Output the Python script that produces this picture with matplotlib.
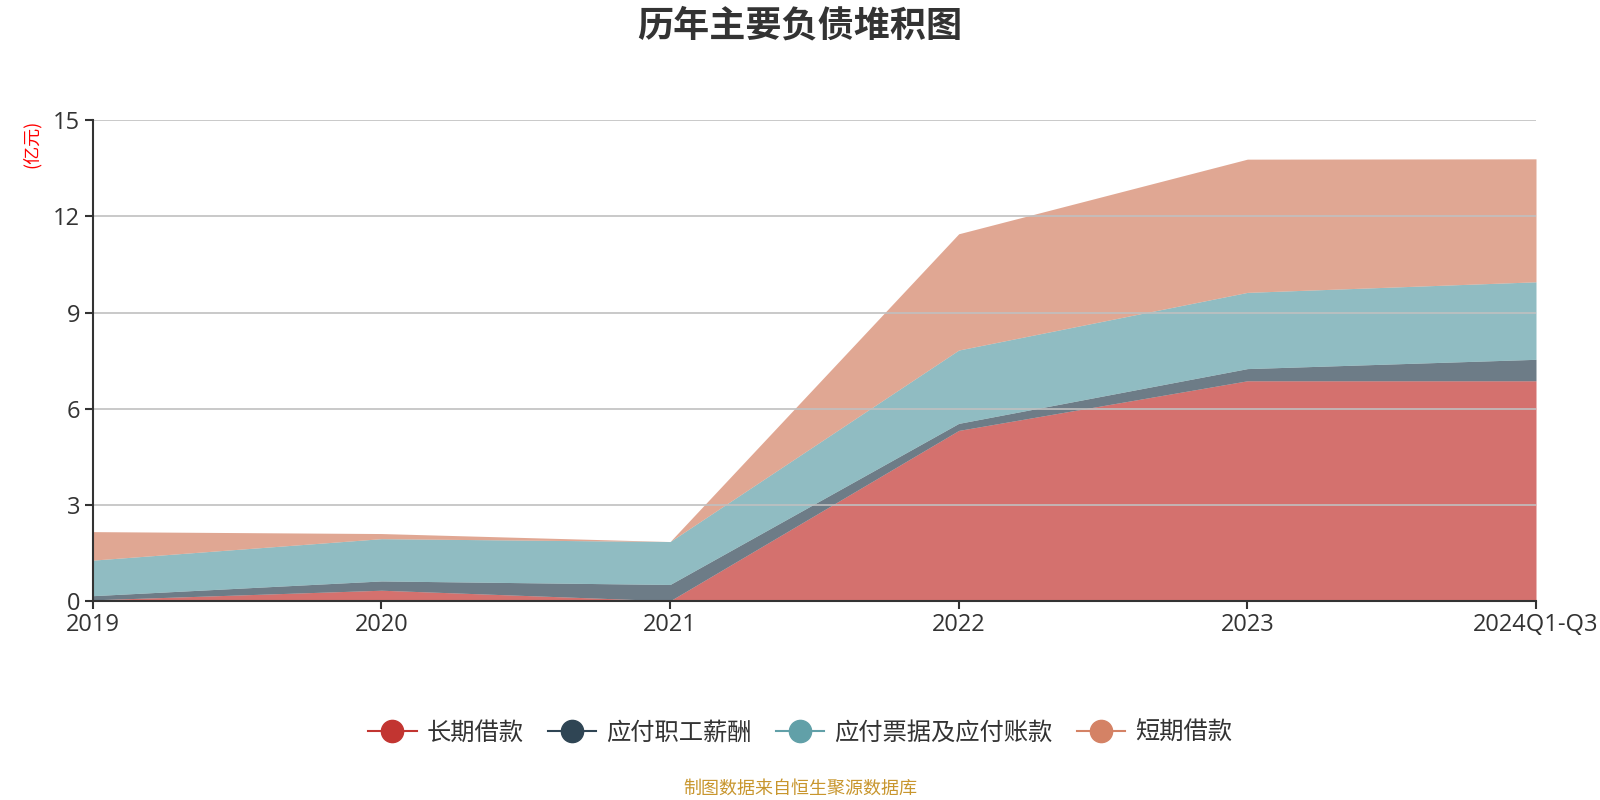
import numpy as np
import matplotlib
matplotlib.use('Agg')
from matplotlib import pyplot as plt
from matplotlib.lines import Line2D

plt.rcParams['font.family'] = ['Noto Sans CJK SC', 'DejaVu Sans']
plt.rcParams['axes.unicode_minus'] = False

# 数据 (亿元)
years = ['2019', '2020', '2021', '2022', '2023', '2024Q1-Q3']
long_loan = [0.03, 0.33, 0.0, 5.32, 6.87, 6.87]        # 长期借款
payroll = [0.13, 0.29, 0.51, 0.22, 0.38, 0.67]         # 应付职工薪酬
payables = [1.11, 1.32, 1.34, 2.29, 2.38, 2.42]        # 应付票据及应付账款
short_loan = [0.89, 0.16, 0.0, 3.63, 4.16, 3.84]       # 短期借款

names = ['长期借款', '应付职工薪酬', '应付票据及应付账款', '短期借款']
colors = ['#c23531', '#2f4554', '#61a0a8', '#d48265']
series = [long_loan, payroll, payables, short_loan]

fig = plt.figure(figsize=(16, 8), dpi=100)
ax = fig.add_axes([0.058, 0.249, 0.902, 0.6005])

x = np.arange(len(years))
base = np.zeros(len(years))
for vals, c in zip(series, colors):
    top = base + np.array(vals)
    ax.fill_between(x, base, top, color=c, alpha=0.7, linewidth=0, zorder=2)
    base = top

# 网格线
ax.set_ylim(0, 15)
ax.set_yticks([0, 3, 6, 9, 12, 15])
ax.yaxis.grid(True, color='#c0c0c0', linewidth=1.2, zorder=3)
ax.set_axisbelow(False)
ax.set_xlim(0, len(years) - 1)
ax.set_xticks(x)
ax.set_xticklabels(years)

for s in ['top', 'right']:
    ax.spines[s].set_visible(False)
for s in ['left', 'bottom']:
    ax.spines[s].set_color('#333333')
    ax.spines[s].set_linewidth(1.5)
    ax.spines[s].set_zorder(4)
ax.tick_params(axis='both', colors='#333333', labelsize=17, length=6, width=1.5, direction='out')
ax.tick_params(axis='x', pad=3)
ax.tick_params(axis='y', pad=3)
for lab in ax.get_xticklabels() + ax.get_yticklabels():
    lab.set_family(['Open Sans', 'Noto Sans CJK SC'])

fig.text(0.5, 0.968, '历年主要负债堆积图', ha='center', va='center',
         fontsize=26, fontweight='bold', color='#333333')
fig.text(0.02, 0.82, '(亿元)', rotation=90, ha='center', va='center',
         fontsize=13, color='red')

handles = [Line2D([0], [0], color=c, marker='o', markersize=16, linewidth=1.5)
           for c in colors]
fig.legend(handles, names, loc='center', bbox_to_anchor=(0.5, 0.084), ncol=4,
           frameon=False, fontsize=17.5, handlelength=2.0, handletextpad=0.4,
           columnspacing=1.0, labelcolor='#333333')

fig.text(0.5, 0.014, '制图数据来自恒生聚源数据库', ha='center', va='center',
         fontsize=13, color='#c8962e')

fig.savefig('out.png', dpi=100)
